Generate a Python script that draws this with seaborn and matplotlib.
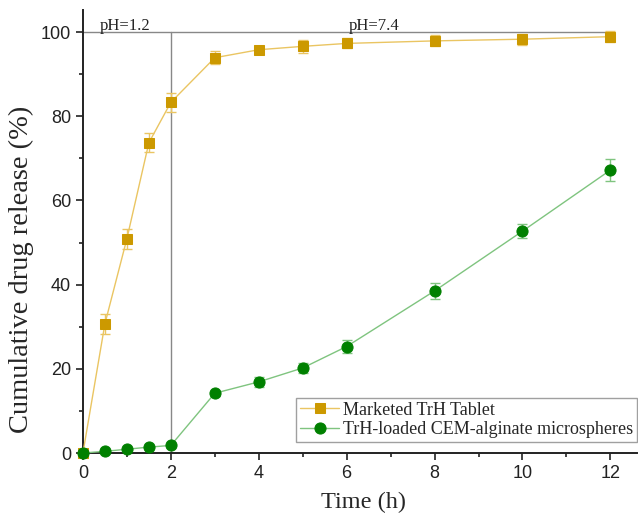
import numpy as np
import pandas as pd
import matplotlib
matplotlib.use("Agg")
import matplotlib.pyplot as plt
import seaborn as sns
from matplotlib.ticker import MultipleLocator

time = [0, 0.5, 1, 1.5, 2, 3, 4, 5, 6, 8, 10, 12]
tablet = [0, 30.7, 50.9, 73.7, 83.3, 93.9, 95.8, 96.6, 97.3, 97.9, 98.3, 98.9]
tablet_err = [0, 2.4, 2.4, 2.3, 2.2, 1.6, 1.0, 1.6, 1.2, 1.3, 1.3, 1.3]
micro = [0, 0.4, 0.9, 1.4, 1.8, 14.2, 16.9, 20.2, 25.3, 38.5, 52.7, 67.2]
micro_err = [0, 0.2, 0.3, 0.3, 0.4, 0.6, 1.2, 1.2, 1.6, 1.8, 1.7, 2.7]
labels = ["Marketed TrH Tablet", "TrH-loaded CEM-alginate microspheres"]

sns.set_style("ticks")
plt.rcParams['font.family'] = ['Liberation Sans', 'DejaVu Sans']

fig = plt.figure(figsize=(6.38, 5.21), dpi=100)
ax = fig.add_axes([0.130, 0.1305, 0.868, 0.850])

gold, gold_l = "#CC9900", "#EAC562"
green, green_l = "#008000", "#7FC47F"

df = pd.DataFrame({"t": time * 2, "v": tablet + micro,
                   "s": [labels[0]] * len(time) + [labels[1]] * len(time)})

ax.axvline(2, ymin=0, ymax=100 / 105.2, color="#888888", lw=1.0, zorder=1)
ax.plot([0, 12], [100, 100], color="#888888", lw=1.0, zorder=1)

ax.errorbar(time, tablet, yerr=tablet_err, fmt="none", ecolor=gold_l, capsize=3.8, elinewidth=1, zorder=2)
ax.errorbar(time, micro, yerr=micro_err, fmt="none", ecolor=green_l, capsize=3.8, elinewidth=1, zorder=2)

for lab, c, cl, m, ms in [(labels[0], gold, gold_l, "s", 7.5), (labels[1], green, green_l, "o", 8.0)]:
    sub = df[df.s == lab]
    sns.lineplot(data=sub, x="t", y="v", ax=ax, color=cl, lw=1.0, label=lab,
                 marker=m, markersize=ms, markerfacecolor=c, markeredgecolor=c,
                 zorder=3, clip_on=False)

ax.set_xlim(0, 12.6)
ax.set_ylim(0, 105.2)
ax.xaxis.set_major_locator(MultipleLocator(2))
ax.xaxis.set_minor_locator(MultipleLocator(1))
ax.yaxis.set_major_locator(MultipleLocator(20))
ax.yaxis.set_minor_locator(MultipleLocator(10))
ax.tick_params(which="major", length=5, width=1.2, labelsize=13, direction="out", colors="#222222")
ax.tick_params(which="minor", length=3, width=1.2, direction="out", colors="#222222")
ax.set_yticks([0, 20, 40, 60, 80, 100])
for s in ["top", "right"]:
    ax.spines[s].set_visible(False)
for s in ["left", "bottom"]:
    ax.spines[s].set_linewidth(1.4)
    ax.spines[s].set_color("#222222")

serif = ['Liberation Serif', 'DejaVu Serif']
ax.set_xlabel("Time (h)", family=serif, fontsize=17.5)
ax.set_ylabel("Cumulative drug release (%)", family=serif, fontsize=20.5)
ax.xaxis.set_label_coords(0.506, -0.088)
ax.yaxis.set_label_coords(-0.088, 0.415)

ax.text(0.39, 100.6, "pH=1.2", family=serif, fontsize=12, color="#222222")
ax.text(6.05, 100.6, "pH=7.4", family=serif, fontsize=12, color="#222222")

leg = ax.legend(loc="lower right", bbox_to_anchor=(1.0, 0.025), prop={"family": serif, "size": 13},
                frameon=True, fancybox=False, edgecolor="#888888", borderpad=0.2,
                handlelength=2.2, handletextpad=0.2, labelspacing=0.15, borderaxespad=0)
leg.get_frame().set_linewidth(1.0)

fig.savefig("out.png", dpi=100)
